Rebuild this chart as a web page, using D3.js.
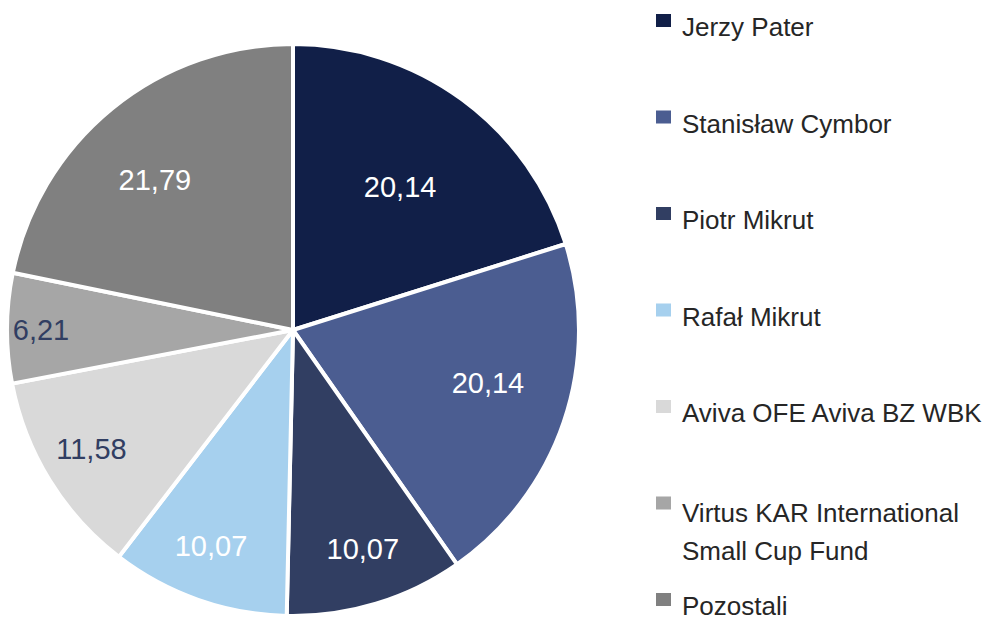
<!DOCTYPE html>
<html>
<head>
<meta charset="utf-8">
<script src="https://cdn.jsdelivr.net/npm/d3@7"></script>
<style>
  body { margin: 0; background: #fff; }
  text { font-family: "Liberation Sans", Arial, sans-serif; }
</style>
</head>
<body>
<div id="chart"></div>
<script>
// shareholders, in pie order (clockwise from 12 o'clock)
var names = ["Jerzy Pater", "Stanisław Cymbor", "Piotr Mikrut", "Rafał Mikrut",
             "Aviva OFE Aviva BZ WBK", "Virtus KAR International Small Cup Fund", "Pozostali"];
var legendLines = [["Jerzy Pater"], ["Stanisław Cymbor"], ["Piotr Mikrut"], ["Rafał Mikrut"],
                   ["Aviva OFE Aviva BZ WBK"], ["Virtus KAR International", "Small Cup Fund"], ["Pozostali"]];
var values = [20.14, 20.14, 10.07, 10.07, 11.58, 6.21, 21.79];
var colors = ["#111f48", "#4b5d91", "#313e62", "#a6d0ee", "#d9d9d9", "#a6a6a6", "#808080"];
var labelColors = ["#fff", "#fff", "#fff", "#fff", "#313e62", "#313e62", "#fff"];

// label placement (Excel "best fit" look): distance from centre and small angle nudge in degrees
var labelRadius = [179, 202, 230, 231, 234, 252, 204];
var labelShift = [0.5, -3.6, -0.8, 1.4, 1.1, -0.4, -3.4];

var width = 988, height = 621;
var cx = 293, cy = 330, radius = 286;

var pl = d3.formatLocale({decimal: ",", thousands: " ", grouping: [3], currency: ["", " zł"]});
var fmt = pl.format(".2f");

var svg = d3.select("#chart")
  .append("svg")
    .attr("width", width)
    .attr("height", height);

var pie = d3.pie().sort(null).value(function (d) { return d; });
var arc = d3.arc().innerRadius(0).outerRadius(radius);
var arcs = pie(values);

var g = svg.append("g")
    .attr("transform", "translate(" + cx + "," + cy + ")");

// slices
g.selectAll("path")
  .data(arcs)
  .enter()
  .append("path")
    .attr("d", arc)
    .attr("fill", function (d, i) { return colors[i]; })
    .attr("stroke", "white")
    .attr("stroke-width", 4)
    .attr("stroke-linejoin", "round");

// value labels
g.selectAll("text.val")
  .data(arcs)
  .enter()
  .append("text")
    .attr("class", "val")
    .attr("x", function (d, i) {
      var a = (d.startAngle + d.endAngle) / 2 + labelShift[i] * Math.PI / 180;
      return labelRadius[i] * Math.sin(a);
    })
    .attr("y", function (d, i) {
      var a = (d.startAngle + d.endAngle) / 2 + labelShift[i] * Math.PI / 180;
      return -labelRadius[i] * Math.cos(a);
    })
    .attr("dy", "0.35em")
    .attr("text-anchor", "middle")
    .style("font-size", "29px")
    .style("fill", function (d, i) { return labelColors[i]; })
    .text(function (d) { return fmt(d.data); });

// legend
var ly = d3.scalePoint().domain(d3.range(names.length)).range([36, 615]);
var lineH = 38;

var item = svg.append("g")
  .selectAll("g")
  .data(names)
  .enter()
  .append("g")
    .attr("transform", function (d, i) { return "translate(656," + ly(i) + ")"; });

item.append("rect")
    .attr("x", 0)
    .attr("y", -22)
    .attr("width", 15)
    .attr("height", 13)
    .attr("fill", function (d, i) { return colors[i]; });

item.append("text")
    .attr("x", 26)
    .attr("y", function (d, i) { return legendLines[i].length > 1 ? 3 : 0; })
    .style("font-size", "26px")
    .style("fill", "#262626")
  .selectAll("tspan")
  .data(function (d, i) { return legendLines[i]; })
  .enter()
  .append("tspan")
    .attr("x", 26)
    .attr("dy", function (d, j) { return j === 0 ? 0 : lineH; })
    .text(function (d) { return d; });
</script>
</body>
</html>
